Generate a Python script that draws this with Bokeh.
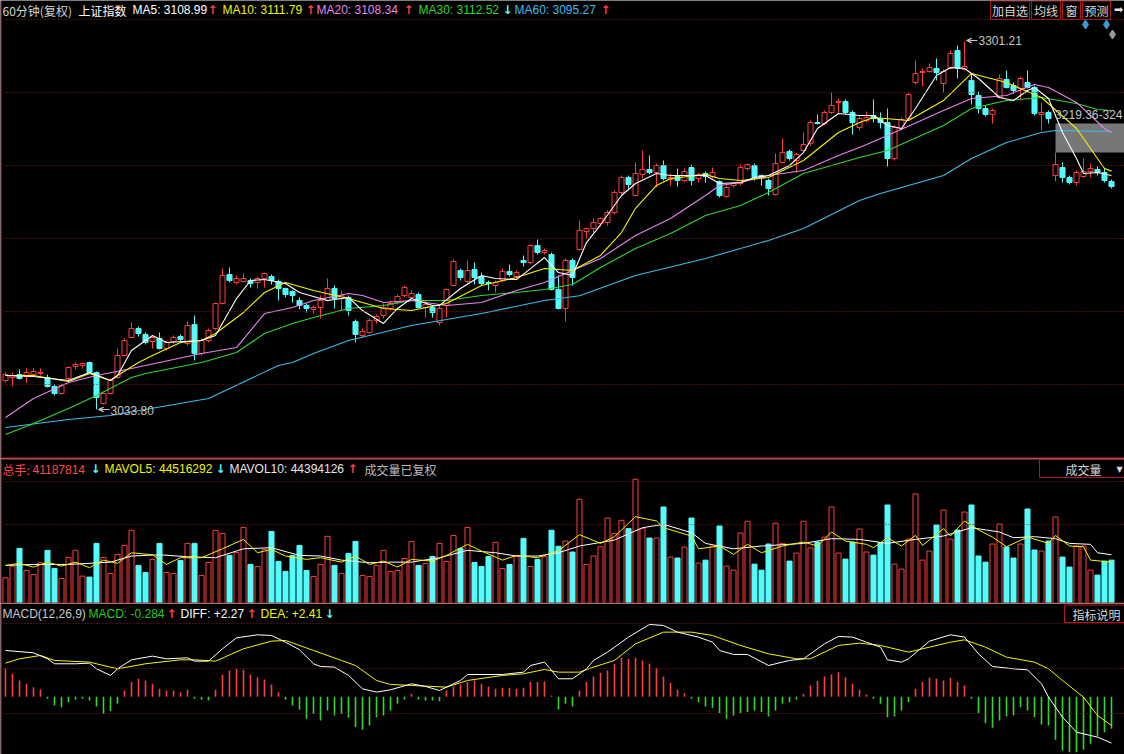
import numpy as np
from bokeh.plotting import figure
from bokeh.layouts import column
from bokeh.models import Range1d, Span, Label, Arrow, VeeHead
from bokeh.embed import file_html
from bokeh.resources import INLINE

# ---------------- data (60-minute bars, 上证指数) ----------------
opens = [3054.9, 3057.0, 3059.2, 3057.8, 3059.2, 3059.9, 3057.0, 3050.5, 3045.4, 3056.3,
         3065.0, 3065.8, 3067.9, 3060.7, 3038.1, 3045.4, 3057.0, 3073.0, 3086.1, 3092.6,
         3088.3, 3083.2, 3085.4, 3078.1, 3083.2, 3086.8, 3081.7, 3095.5, 3074.5, 3083.9,
         3092.6, 3110.8, 3131.9, 3126.1, 3126.8, 3127.5, 3126.1, 3129.0, 3130.4, 3126.8,
         3121.7, 3119.5, 3113.0, 3109.4, 3106.5, 3107.9, 3113.0, 3121.7, 3114.4, 3115.2,
         3097.7, 3087.6, 3089.7, 3098.5, 3102.1, 3107.2, 3111.5, 3116.6, 3115.2, 3117.3,
         3107.9, 3107.9, 3097.0, 3109.4, 3123.9, 3134.8, 3126.8, 3135.5, 3130.4, 3126.1,
         3123.9, 3127.5, 3134.1, 3130.4, 3142.1, 3140.6, 3152.9, 3147.9, 3146.4, 3121.0,
         3107.2, 3142.1, 3150.0, 3163.1, 3165.3, 3168.9, 3169.7, 3176.9, 3191.5, 3202.4,
         3189.3, 3204.6, 3208.2, 3206.0, 3211.1, 3200.9, 3203.1, 3200.2, 3209.6, 3201.6,
         3205.3, 3203.1, 3199.5, 3188.6, 3196.6, 3198.0, 3208.9, 3211.1, 3203.8, 3200.2,
         3190.0, 3213.3, 3221.3, 3214.7, 3222.0, 3227.1, 3242.3, 3241.6, 3249.6, 3256.9,
         3257.6, 3249.6, 3238.7, 3243.8, 3247.4, 3245.2, 3242.3, 3216.2, 3238.0, 3245.2,
         3271.4, 3278.7, 3279.4, 3281.6, 3270.7, 3281.6, 3294.7, 3280.9, 3272.9, 3262.0,
         3252.5, 3248.2, 3260.5, 3273.6, 3269.2, 3267.0, 3271.4, 3267.8, 3248.2, 3249.6,
         3203.8, 3209.6, 3202.4, 3198.7, 3203.1, 3206.7, 3208.2, 3206.0, 3199.5]
closes = [3059.2, 3058.5, 3056.3, 3060.7, 3061.4, 3060.7, 3050.5, 3045.4, 3051.2, 3064.3,
          3066.5, 3067.2, 3060.7, 3042.5, 3045.4, 3054.9, 3073.0, 3083.9, 3092.6, 3089.0,
          3082.5, 3086.1, 3078.1, 3082.5, 3086.1, 3084.6, 3094.8, 3074.5, 3083.9, 3091.2,
          3110.8, 3131.2, 3127.5, 3129.0, 3129.0, 3125.3, 3129.0, 3132.6, 3127.5, 3121.7,
          3117.3, 3116.6, 3109.4, 3107.2, 3107.9, 3113.0, 3121.7, 3114.4, 3116.6, 3105.7,
          3088.3, 3090.5, 3098.5, 3101.4, 3107.9, 3110.8, 3115.9, 3122.4, 3118.1, 3107.9,
          3110.1, 3104.3, 3107.2, 3121.0, 3141.3, 3129.7, 3134.8, 3129.7, 3125.3, 3125.3,
          3126.1, 3134.1, 3131.9, 3133.3, 3140.6, 3152.9, 3147.9, 3149.3, 3121.0, 3107.2,
          3142.1, 3129.7, 3163.9, 3165.3, 3169.7, 3172.6, 3176.9, 3191.5, 3202.4, 3197.3,
          3205.3, 3208.2, 3206.0, 3211.1, 3201.6, 3202.4, 3200.2, 3206.7, 3200.2, 3204.6,
          3203.1, 3206.0, 3189.3, 3195.1, 3198.0, 3209.6, 3211.8, 3202.4, 3202.4, 3194.4,
          3212.5, 3220.5, 3216.2, 3219.1, 3226.4, 3242.3, 3241.6, 3249.6, 3254.7, 3257.6,
          3249.6, 3242.3, 3245.2, 3246.0, 3245.2, 3242.3, 3216.2, 3238.7, 3244.5, 3262.7,
          3278.0, 3279.4, 3282.3, 3278.7, 3279.4, 3292.5, 3281.6, 3283.0, 3262.7, 3252.5,
          3248.2, 3251.1, 3274.3, 3267.8, 3265.6, 3274.3, 3267.8, 3248.9, 3249.6, 3245.2,
          3211.8, 3202.4, 3198.7, 3206.0, 3206.7, 3208.9, 3206.0, 3200.2, 3195.8]
highs = [3060.7, 3060.7, 3062.9, 3063.6, 3063.6, 3063.6, 3059.2, 3051.9, 3052.7, 3065.0,
         3067.9, 3067.9, 3068.7, 3061.4, 3046.1, 3056.3, 3078.1, 3085.4, 3097.0, 3094.1,
         3089.7, 3087.6, 3089.7, 3083.9, 3087.6, 3088.3, 3097.7, 3102.1, 3085.4, 3092.6,
         3111.5, 3136.2, 3137.0, 3131.2, 3132.6, 3129.0, 3130.4, 3133.3, 3131.9, 3128.2,
         3122.4, 3120.3, 3115.2, 3110.8, 3109.4, 3116.6, 3129.0, 3123.9, 3120.3, 3116.6,
         3099.2, 3092.6, 3099.9, 3102.8, 3110.8, 3113.0, 3117.3, 3123.9, 3120.3, 3118.8,
         3113.0, 3109.4, 3109.4, 3121.7, 3142.8, 3136.2, 3142.1, 3140.6, 3133.3, 3127.5,
         3127.5, 3136.2, 3139.2, 3134.8, 3145.7, 3153.7, 3157.3, 3150.8, 3147.9, 3131.2,
         3143.5, 3143.5, 3171.1, 3166.0, 3172.6, 3173.3, 3178.4, 3192.9, 3203.8, 3203.8,
         3213.3, 3222.0, 3218.4, 3212.5, 3214.7, 3205.3, 3208.9, 3208.9, 3211.8, 3206.0,
         3206.7, 3209.6, 3200.2, 3196.6, 3198.7, 3211.8, 3212.5, 3212.5, 3204.6, 3201.6,
         3219.8, 3230.7, 3222.7, 3220.5, 3235.1, 3243.8, 3248.2, 3251.1, 3264.1, 3259.8,
         3259.1, 3251.1, 3247.4, 3250.3, 3259.1, 3249.6, 3252.5, 3240.2, 3246.0, 3264.1,
         3287.4, 3281.6, 3285.2, 3288.9, 3280.9, 3294.7, 3298.3, 3301.21, 3278.0, 3264.9,
         3254.7, 3252.5, 3277.2, 3280.1, 3271.4, 3275.8, 3280.1, 3269.2, 3256.9, 3251.1,
         3220.5, 3213.3, 3203.8, 3207.5, 3216.2, 3212.5, 3210.4, 3208.9, 3200.9]
lows = [3053.4, 3050.5, 3055.6, 3052.7, 3057.8, 3058.5, 3049.8, 3043.9, 3044.7, 3054.9,
        3062.9, 3063.6, 3059.9, 3033.80, 3037.4, 3044.7, 3056.3, 3072.3, 3085.4, 3086.8,
        3081.0, 3078.1, 3077.4, 3076.7, 3081.7, 3083.2, 3080.3, 3069.4, 3073.0, 3082.5,
        3091.2, 3110.1, 3126.1, 3124.6, 3126.1, 3122.4, 3121.7, 3122.4, 3124.6, 3113.0,
        3115.2, 3111.5, 3106.5, 3104.3, 3103.5, 3099.9, 3112.3, 3107.2, 3105.7, 3102.1,
        3082.5, 3086.1, 3089.0, 3096.3, 3099.9, 3105.7, 3110.1, 3115.2, 3114.4, 3107.2,
        3100.6, 3100.6, 3094.8, 3100.6, 3123.2, 3127.5, 3125.3, 3124.6, 3123.9, 3120.3,
        3118.8, 3126.1, 3130.4, 3129.0, 3137.7, 3139.2, 3146.4, 3146.4, 3120.3, 3106.5,
        3097.7, 3123.9, 3149.3, 3158.0, 3162.4, 3166.8, 3167.5, 3175.5, 3190.0, 3192.9,
        3188.6, 3201.6, 3204.6, 3195.1, 3200.2, 3196.6, 3195.8, 3198.7, 3196.6, 3198.7,
        3198.7, 3201.6, 3187.8, 3187.8, 3195.1, 3196.6, 3207.5, 3200.2, 3196.6, 3189.3,
        3189.3, 3212.5, 3214.7, 3206.0, 3221.3, 3225.6, 3240.9, 3240.2, 3248.9, 3248.9,
        3248.2, 3233.6, 3236.5, 3242.3, 3242.3, 3238.0, 3210.4, 3214.7, 3236.5, 3243.8,
        3270.0, 3268.5, 3278.7, 3272.9, 3264.1, 3280.9, 3274.3, 3280.1, 3255.4, 3248.9,
        3246.7, 3241.6, 3259.8, 3267.0, 3263.4, 3258.3, 3267.0, 3247.4, 3236.5, 3241.6,
        3199.5, 3198.7, 3197.3, 3196.6, 3202.4, 3202.4, 3203.8, 3198.7, 3194.4]

# volume, in millions of 手
volumes_m = [24.4, 35.5, 52.4, 31.4, 27.6, 38.7, 50.5, 33.3, 23.8, 43.8,
             50.5, 26.0, 25.1, 57.1, 43.8, 28.6, 46.6, 55.2, 69.5, 36.2,
             29.5, 41.9, 57.1, 29.5, 28.6, 40.9, 57.1, 57.1, 26.7, 39.0,
             69.5, 66.6, 45.7, 48.5, 72.3, 37.1, 35.2, 51.4, 68.5, 40.0,
             30.5, 45.7, 55.2, 31.4, 25.7, 37.1, 63.8, 36.2, 28.6, 47.6,
             59.0, 26.7, 25.7, 36.2, 50.5, 30.5, 31.4, 42.8, 59.0, 36.2,
             38.1, 44.7, 57.1, 40.0, 64.7, 52.4, 72.3, 39.0, 35.2, 44.7,
             58.1, 33.3, 37.1, 44.7, 61.9, 35.2, 41.9, 44.5, 69.6, 54.4,
             59.3, 48.9, 99.0, 37.1, 45.1, 53.9, 81.2, 66.6, 79.0, 71.1,
             118.0, 71.1, 62.2, 62.2, 91.7, 44.1, 43.2, 53.6, 81.2, 38.4,
             41.2, 54.6, 73.6, 35.5, 31.7, 67.0, 78.1, 37.4, 31.7, 56.5,
             76.2, 57.1, 40.3, 47.9, 78.1, 52.7, 58.4, 63.1, 91.7, 47.9,
             42.2, 58.4, 70.8, 48.9, 46.0, 57.7, 93.6, 37.4, 32.7, 61.2,
             104.1, 41.2, 49.8, 74.6, 88.8, 61.2, 69.8, 86.9, 93.6, 45.1,
             39.3, 56.5, 75.5, 53.6, 43.2, 56.5, 89.8, 50.8, 49.8, 59.3,
             82.2, 44.1, 34.6, 54.6, 54.6, 31.7, 27.0, 40.3, 41.19]

macd_hist = [5.28, 4.34, 3.08, 2.45, 1.82, 1.38, -0.38, -1.64, -1.95, -1.01,
             -0.50, -0.38, -0.69, -1.82, -3.21, -2.70, -1.32, 1.19, 2.77, 3.40,
             3.08, 2.45, 1.51, 1.19, 1.19, 0.88, 1.32, -0.38, -0.57, -0.69,
             1.32, 4.21, 4.97, 5.28, 5.09, 4.21, 3.71, 3.27, 2.33, 0.88,
             -0.57, -1.64, -2.45, -4.15, -3.21, -4.47, -2.58, -3.52, -3.21, -3.96,
             -5.72, -6.23, -5.41, -3.84, -3.52, -2.58, -1.32, -0.50, 0.57, -0.50,
             -0.69, -0.69, -0.82, 1.19, 1.95, 2.33, 2.77, 3.08, 2.45, 1.95,
             1.51, 1.70, 1.70, 1.51, 1.70, 2.77, 2.77, 2.90, 0.25, -2.40,
             -1.32, -1.82, 1.19, 2.77, 3.84, 4.47, 4.97, 6.23, 7.36, 7.17,
             7.36, 6.86, 6.23, 5.41, 3.84, 2.64, 1.32, 0.69, -0.38, -1.01,
             -1.82, -2.08, -3.08, -4.15, -3.52, -3.08, -2.89, -2.58, -2.89, -3.71,
             -2.58, -1.32, -1.01, -0.57, 0.57, 2.14, 2.96, 3.84, 4.21, 4.65,
             3.71, 2.45, 1.32, 0.44, -0.38, -1.32, -3.84, -3.71, -2.58, -1.01,
             1.51, 2.77, 3.58, 3.40, 3.08, 3.58, 2.77, 2.14, -0.38, -3.08,
             -4.97, -5.85, -4.47, -3.71, -3.52, -1.95, -2.58, -3.84, -5.22, -5.41,
             -8.11, -10.13, -10.44, -10.44, -10.00, -8.87, -7.48, -6.67, -6.04]

ma5_idx = [0, 4, 9, 12, 15, 16, 18, 21, 23, 28, 30, 33, 35, 37, 40, 42, 46, 49, 51, 54, 56, 58, 61, 62,
           65, 68, 70, 73, 75, 77, 79, 81, 83, 85, 88, 90, 93, 95, 100, 102, 105, 107, 109, 112, 114,
           116, 119, 122, 124, 126, 128, 130, 133, 135, 137, 139, 142, 144, 146, 147, 149, 151, 153,
           154, 156, 158]
ma5_val = [3058.5, 3057.8, 3054.9, 3060.7, 3054.9, 3058.5, 3076.7, 3087.6, 3082.5, 3083.9, 3087.6,
           3114.4, 3127.5, 3128.2, 3125.3, 3118.8, 3113.0, 3115.2, 3105.7, 3096.3, 3107.2, 3114.4,
           3109.4, 3109.4, 3121.7, 3131.2, 3129.0, 3128.2, 3136.2, 3144.2, 3133.3, 3131.2, 3155.1,
           3168.0, 3189.3, 3198.0, 3205.3, 3203.8, 3203.8, 3198.0, 3198.7, 3202.4, 3203.8, 3211.1,
           3220.5, 3238.0, 3248.9, 3247.4, 3247.4, 3240.2, 3238.0, 3252.5, 3276.5, 3282.3, 3281.6,
           3274.3, 3260.5, 3258.3, 3265.6, 3267.8, 3259.8, 3235.1, 3216.2, 3205.3, 3206.0, 3203.8]
ma10_idx = [0, 4, 9, 12, 15, 16, 19, 21, 25, 28, 30, 34, 37, 40, 44, 49, 54, 58, 63, 68, 73, 77, 81,
            85, 88, 90, 93, 95, 100, 102, 105, 109, 114, 119, 122, 124, 129, 134, 138, 143, 148, 153,
            157, 158]
ma10_val = [3058.5, 3058.5, 3054.1, 3059.9, 3054.9, 3058.5, 3067.9, 3073.0, 3082.5, 3083.9, 3089.0,
            3104.3, 3118.8, 3126.1, 3120.3, 3114.4, 3107.2, 3105.7, 3110.8, 3123.9, 3129.7, 3136.2,
            3134.8, 3145.7, 3162.4, 3180.0, 3196.6, 3201.6, 3204.6, 3201.6, 3200.2, 3202.4, 3214.7,
            3235.1, 3242.3, 3246.0, 3243.8, 3258.3, 3278.0, 3271.4, 3260.5, 3238.0, 3208.9, 3207.0]
ma20_idx = [0, 4, 9, 13, 18, 28, 33, 37, 41, 44, 49, 51, 54, 58, 63, 68, 73, 77, 81, 85, 90, 95, 100,
            102, 105, 109, 114, 119, 122, 126, 134, 138, 143, 147, 149, 153, 157, 158]
ma20_val = [3028.0, 3041.8, 3053.4, 3058.5, 3063.6, 3074.5, 3078.8, 3103.5, 3107.9, 3113.0, 3118.1,
            3116.6, 3111.5, 3113.0, 3109.4, 3111.5, 3120.3, 3126.1, 3134.8, 3143.5, 3160.2, 3172.6,
            3189.3, 3196.6, 3198.7, 3203.8, 3207.5, 3218.4, 3224.2, 3232.9, 3251.1, 3259.8, 3262.0,
            3270.0, 3267.8, 3256.9, 3238.0, 3235.0]
ma30_idx = [0, 4, 9, 13, 18, 20, 28, 33, 37, 41, 44, 49, 54, 58, 63, 68, 73, 77, 81, 85, 90, 95, 100,
            105, 109, 114, 119, 122, 126, 134, 138, 143, 148, 153, 156, 158]
ma30_val = [3015.6, 3023.6, 3034.5, 3044.0, 3057.0, 3059.9, 3067.9, 3075.2, 3089.0, 3096.3, 3100.6,
            3107.2, 3109.4, 3113.0, 3113.0, 3116.6, 3118.8, 3121.0, 3124.6, 3137.0, 3150.8, 3161.7,
            3174.8, 3182.0, 3191.5, 3205.3, 3212.5, 3216.9, 3222.0, 3240.2, 3252.5, 3258.3, 3260.5,
            3256.1, 3251.8, 3251.1]
ma60_idx = [0, 9, 15, 29, 39, 41, 44, 49, 58, 68, 77, 82, 90, 100, 109, 114, 122, 125, 134, 138, 143,
            148, 150, 158]
ma60_val = [3020.7, 3026.5, 3029.4, 3041.8, 3065.8, 3067.9, 3074.5, 3083.9, 3094.8, 3103.5, 3113.0,
            3116.5, 3131.2, 3143.5, 3156.6, 3165.3, 3185.7, 3190.7, 3203.8, 3216.2, 3227.8, 3235.1,
            3236.5, 3235.8]

mavol5_idx = [0, 2, 4, 6, 8, 10, 12, 14, 16, 18, 21, 23, 25, 28, 31, 34, 36, 38, 40, 43, 45, 48, 50,
              52, 54, 56, 58, 61, 63, 66, 68, 71, 73, 76, 79, 82, 85, 87, 90, 93, 94, 98, 99, 102,
              104, 106, 108, 111, 114, 116, 118, 120, 123, 124, 126, 128, 130, 131, 134, 135, 137,
              139, 141, 143, 146, 149, 150, 152, 154, 155, 158]
mavol5_val = [36.2, 38.1, 34.6, 39.3, 35.5, 39.3, 34.0, 41.2, 38.1, 48.2, 46.3, 37.1, 43.5, 43.5,
              52.0, 60.9, 48.2, 51.4, 45.1, 41.9, 43.5, 39.3, 45.1, 37.1, 40.3, 34.6, 41.9, 40.3,
              45.7, 56.2, 49.8, 41.2, 45.7, 43.5, 50.2, 65.4, 57.1, 63.5, 82.5, 78.4, 72.0, 64.1,
              52.0, 54.6, 46.6, 56.2, 48.2, 54.6, 58.4, 54.6, 67.9, 59.3, 56.2, 53.0, 62.5, 54.6,
              64.7, 55.2, 71.1, 64.1, 78.4, 69.8, 63.1, 53.9, 63.1, 57.1, 64.7, 54.6, 53.9, 41.2,
              39.3]
mavol10_idx = [0, 4, 9, 15, 18, 22, 26, 30, 34, 38, 42, 45, 48, 52, 55, 58, 62, 66, 70, 73, 76, 79,
               82, 87, 91, 94, 98, 100, 104, 108, 114, 118, 122, 126, 130, 134, 138, 142, 144, 147,
               150, 152, 155, 156, 158]
mavol10_val = [36.2, 37.1, 37.1, 39.3, 45.1, 46.3, 44.4, 43.5, 52.0, 53.0, 45.7, 45.1, 41.2, 38.7,
               39.3, 39.3, 43.5, 50.5, 48.2, 45.1, 45.1, 48.2, 54.6, 60.3, 72.0, 75.2, 67.3, 57.1,
               52.0, 54.6, 57.1, 61.6, 60.9, 57.1, 60.9, 64.1, 72.0, 67.9, 62.5, 63.5, 61.6, 57.1,
               56.2, 48.2, 46.3]

diff_idx = [0, 4, 6, 7, 10, 12, 13, 15, 16, 18, 21, 23, 26, 27, 29, 31, 33, 36, 38, 40, 42, 44, 45,
            47, 49, 51, 53, 55, 58, 60, 62, 65, 66, 71, 74, 75, 77, 79, 81, 83, 84, 86, 89, 92, 94,
            96, 99, 101, 102, 104, 106, 109, 112, 114, 117, 119, 121, 123, 125, 126, 128, 129, 132,
            135, 137, 139, 141, 144, 146, 148, 149, 151, 153, 156, 158]
diff_val = [8.74, 8.30, 7.17, 6.23, 6.23, 6.35, 5.28, 4.03, 5.28, 6.98, 7.67, 7.17, 7.36, 6.73, 6.73,
            9.06, 11.13, 11.70, 11.57, 10.31, 8.87, 6.23, 5.72, 5.60, 4.03, 1.51, 0.88, 1.32, 2.45,
            1.95, 1.19, 3.08, 4.21, 4.21, 4.65, 5.91, 6.54, 3.40, 3.40, 5.28, 6.86, 8.43, 11.26,
            13.65, 13.46, 12.20, 11.26, 10.31, 8.74, 7.99, 7.99, 5.91, 6.86, 7.17, 10.00, 11.38,
            11.26, 10.31, 9.37, 6.98, 6.54, 7.17, 10.50, 11.70, 11.26, 8.11, 5.72, 5.28, 5.09, 2.45,
            -0.06, -3.84, -6.67, -7.61, -8.74]
dea_idx = [0, 2, 5, 7, 12, 16, 20, 25, 27, 30, 34, 38, 40, 44, 48, 50, 53, 55, 58, 63, 66, 71, 74, 77,
           79, 82, 84, 87, 90, 94, 98, 101, 105, 109, 113, 115, 119, 122, 125, 129, 132, 135, 137,
           140, 143, 147, 149, 151, 154, 156, 158]
dea_val = [6.35, 7.17, 7.80, 6.86, 6.54, 5.28, 6.23, 6.98, 6.98, 6.73, 9.06, 10.50, 10.63, 8.74, 6.86,
           5.91, 3.08, 2.33, 2.14, 1.82, 3.08, 4.03, 4.34, 5.16, 4.65, 4.65, 5.60, 6.86, 10.00, 12.20,
           12.20, 11.57, 9.69, 8.11, 7.17, 7.17, 9.69, 10.13, 9.69, 8.43, 9.37, 10.31, 10.75, 9.37,
           7.48, 6.54, 5.28, 3.08, -0.06, -3.52, -5.41]

# ---------------- layout helpers ----------------
REF_W = 1124
W = 1124
H1, H2, H3 = 458, 145, 151
X0, X1 = -5 / 7, (REF_W - 5) / 7


def xd(xr):
    return (xr - 5) / 7


def yp(yr):  # price panel: pixel row -> price
    return 3331.0 - yr * 0.7267


def yv(yr):  # volume panel: pixel row -> volume (millions)
    return (603 - yr) * 0.95


def ym(yr):  # macd panel: pixel row -> macd value
    return (696.3 - yr) / 5.3


RED = "#ff3c3c"
CYAN = "#54fcfc"
YEL = "#f4f400"
PINK = "#e884f0"
GREEN = "#2ed82e"
BLUE = "#3cbcec"
GRID = "#8e1a1a"
FRAME = "#b01818"
GRAY = "#c4c4c4"
LAT = "Liberation Sans"
CJK = "Noto Sans CJK SC"
ARW = "DejaVu Sans"


def make_fig(h, y0, y1):
    p = figure(width=W, height=h, x_range=Range1d(X0, X1), y_range=Range1d(y0, y1),
               output_backend="svg", toolbar_location=None,
               x_axis_location=None, y_axis_location=None, min_border=0,
               background_fill_color="black", border_fill_color="black",
               outline_line_color=None)
    p.xgrid.visible = False
    p.ygrid.visible = False
    p.add_layout(Span(location=xd(0.6), dimension="height", line_color=FRAME, line_width=1.2))
    return p


def label(p, xr, y, text, color, font=LAT, size="12px", align="left", bold=False):
    p.add_layout(Label(x=xd(xr), y=y, text=text, text_color=color, text_font=font,
                       text_font_size=size, text_baseline="middle", text_align=align,
                       text_font_style="bold" if bold else "normal"))


def hdash(p, y):
    p.add_layout(Span(location=y, dimension="width", line_color=GRID, line_width=1, line_dash="1 2"))


idx = np.arange(len(closes))
o = np.array(opens); c = np.array(closes); hi = np.array(highs); lo = np.array(lows)
up = c >= o
dn = ~up
body_bot = np.minimum(o, c)
body_top = np.maximum(np.maximum(o, c), body_bot + 0.45)

# ---------------- price panel ----------------
p1 = make_fig(H1, yp(458), yp(0))
for yr in [19, 92, 165, 238, 311, 384]:
    hdash(p1, yp(yr))
p1.add_layout(Span(location=yp(457.5), dimension="width", line_color=FRAME, line_width=1.2))

# translucent grey block at right
p1.quad(left=xd(1055), right=xd(1130), top=yp(123), bottom=yp(152),
        fill_color="#8c8c8c", fill_alpha=0.85, line_color=None)

p1.segment(idx[up], hi[up], idx[up], lo[up], line_color=RED, line_width=1)
p1.segment(idx[dn], hi[dn], idx[dn], lo[dn], line_color=CYAN, line_width=1)
p1.vbar(x=idx[up], width=0.72, top=body_top[up], bottom=body_bot[up],
        fill_color="black", line_color=RED, line_width=1)
p1.vbar(x=idx[dn], width=0.72, top=body_top[dn], bottom=body_bot[dn],
        fill_color=CYAN, line_color=CYAN, line_width=1)

p1.line(ma60_idx, ma60_val, line_color=BLUE, line_width=1.1)
p1.line(ma30_idx, ma30_val, line_color=GREEN, line_width=1.1)
p1.line(ma20_idx, ma20_val, line_color=PINK, line_width=1.1)
p1.line(ma10_idx, ma10_val, line_color=YEL, line_width=1.1)
p1.line(ma5_idx, ma5_val, line_color="white", line_width=1.1)

# extreme markers
p1.add_layout(Arrow(end=VeeHead(size=5, line_color=GRAY, fill_color=GRAY, line_width=1),
                    x_start=xd(977), y_start=yp(40), x_end=xd(966), y_end=yp(40),
                    line_color=GRAY, line_width=1))
label(p1, 978, yp(40), "3301.21", GRAY)
p1.add_layout(Arrow(end=VeeHead(size=5, line_color=GRAY, fill_color=GRAY, line_width=1),
                    x_start=xd(109), y_start=yp(409), x_end=xd(98), y_end=yp(409),
                    line_color=GRAY, line_width=1))
label(p1, 110, yp(409.5), "3033.80", GRAY)
label(p1, 1122, yp(114), "3219.36-324", GRAY, align="right")

# header line
ty = yp(9.5)
label(p1, 2, ty, "60分钟(复权)", "#d4d4d4", font=CJK)
label(p1, 78, ty, "上证指数", "#ffffff", font=CJK)
label(p1, 132, ty, "MA5: 3108.99", "#ffffff")
label(p1, 207, ty, "↑", RED, font=ARW, bold=True)
label(p1, 222, ty, "MA10: 3111.79", YEL)
label(p1, 305, ty, "↑", RED, font=ARW, bold=True)
label(p1, 316, ty, "MA20: 3108.34", PINK)
label(p1, 403, ty, "↑", RED, font=ARW, bold=True)
label(p1, 418, ty, "MA30: 3112.52", GREEN)
label(p1, 502, ty, "↓", CYAN, font=ARW, bold=True)
label(p1, 514, ty, "MA60: 3095.27", BLUE)
label(p1, 600, ty, "↑", RED, font=ARW, bold=True)

# buttons at top right
btn_l = [990, 1031, 1062, 1082]
btn_r = [1029, 1060, 1080, 1110]
btn_t = ["加自选", "均线", "窗", "预测"]
p1.quad(left=[xd(v) for v in btn_l], right=[xd(v) for v in btn_r],
        top=yp(0.5), bottom=yp(19), fill_color="black", line_color=FRAME, line_width=1)
for l_, r_, t_ in zip(btn_l, btn_r, btn_t):
    label(p1, (l_ + r_) / 2, yp(10), t_, "#d8d8d8", font=CJK, align="center")
label(p1, 1118, yp(9), "➡", "#e0e0e0", font=ARW, size="11px", align="center")
p1.scatter([xd(1085), xd(1106)], [yp(24), yp(24)], marker="diamond", size=9,
           color="#3a9ad8")
p1.scatter([xd(1112)], [yp(34)], marker="diamond", size=9, color="#9a9a9a")

# ---------------- volume panel ----------------
v = np.array(volumes_m)
p2 = make_fig(H2, yv(603), yv(458))
hdash(p2, yv(481))
hdash(p2, yv(524))
p2.vbar(x=idx[up], width=0.72, top=v[up], bottom=0, fill_color="black",
        line_color=RED, line_width=1)
p2.vbar(x=idx[dn], width=0.72, top=v[dn], bottom=0, fill_color=CYAN,
        line_color=CYAN, line_width=1)
p2.line(mavol10_idx, mavol10_val, line_color="white", line_width=1)
p2.line(mavol5_idx, mavol5_val, line_color=YEL, line_width=1)
p2.add_layout(Span(location=yv(602.6), dimension="width", line_color=FRAME, line_width=1.2))
p2.add_layout(Span(location=yv(458.6), dimension="width", line_color=FRAME, line_width=1.2))

vy = yv(468.5)
label(p2, 2, vy, "总手:", "#ff4646", font=CJK)
label(p2, 32, vy, "41187814", "#ff4646")
label(p2, 90, vy, "↓", CYAN, font=ARW, bold=True)
label(p2, 104, vy, "MAVOL5: 44516292", YEL)
label(p2, 215, vy, "↓", CYAN, font=ARW, bold=True)
label(p2, 229, vy, "MAVOL10: 44394126", "#e6e6e6")
label(p2, 347, vy, "↑", RED, font=ARW, bold=True)
label(p2, 364, vy, "成交量已复权", "#bcbcbc", font=CJK)
p2.quad(left=xd(1039), right=xd(1130), top=yv(459.2), bottom=yv(477),
        fill_color="black", line_color=FRAME, line_width=1)
label(p2, 1065, vy, "成交量", "#d8d8d8", font=CJK)
label(p2, 1119, vy, "▼", "#d8d8d8", font=ARW, size="8px", align="center")

# ---------------- MACD panel ----------------
m = np.array(macd_hist)
p3 = make_fig(H3, ym(754), ym(603))
for yr in [623, 668, 713]:
    hdash(p3, ym(yr))
pos = m >= 0
p3.segment(idx[pos], 0, idx[pos], m[pos], line_color=RED, line_width=1.6)
p3.segment(idx[~pos], 0, idx[~pos], m[~pos], line_color=GREEN, line_width=1.6)
p3.line(dea_idx, dea_val, line_color=YEL, line_width=1)
p3.line(diff_idx, diff_val, line_color="white", line_width=1)

my = ym(613)
label(p3, 2, my, "MACD(12,26,9)", "#c8c8c8")
label(p3, 88, my, "MACD: -0.284", "#22cc22")
label(p3, 166, my, "↑", RED, font=ARW, bold=True)
label(p3, 180, my, "DIFF: +2.27", "#ffffff")
label(p3, 246, my, "↑", RED, font=ARW, bold=True)
label(p3, 260, my, "DEA: +2.41", YEL)
label(p3, 324, my, "↓", CYAN, font=ARW, bold=True)
p3.quad(left=xd(1064), right=xd(1130), top=ym(604.5), bottom=ym(622),
        fill_color="black", line_color=FRAME, line_width=1)
label(p3, 1072, ym(613.5), "指标说明", "#d8d8d8", font=CJK)

layout = column(p1, p2, p3, spacing=0)
open("out.html", "w").write(file_html(layout, INLINE))
